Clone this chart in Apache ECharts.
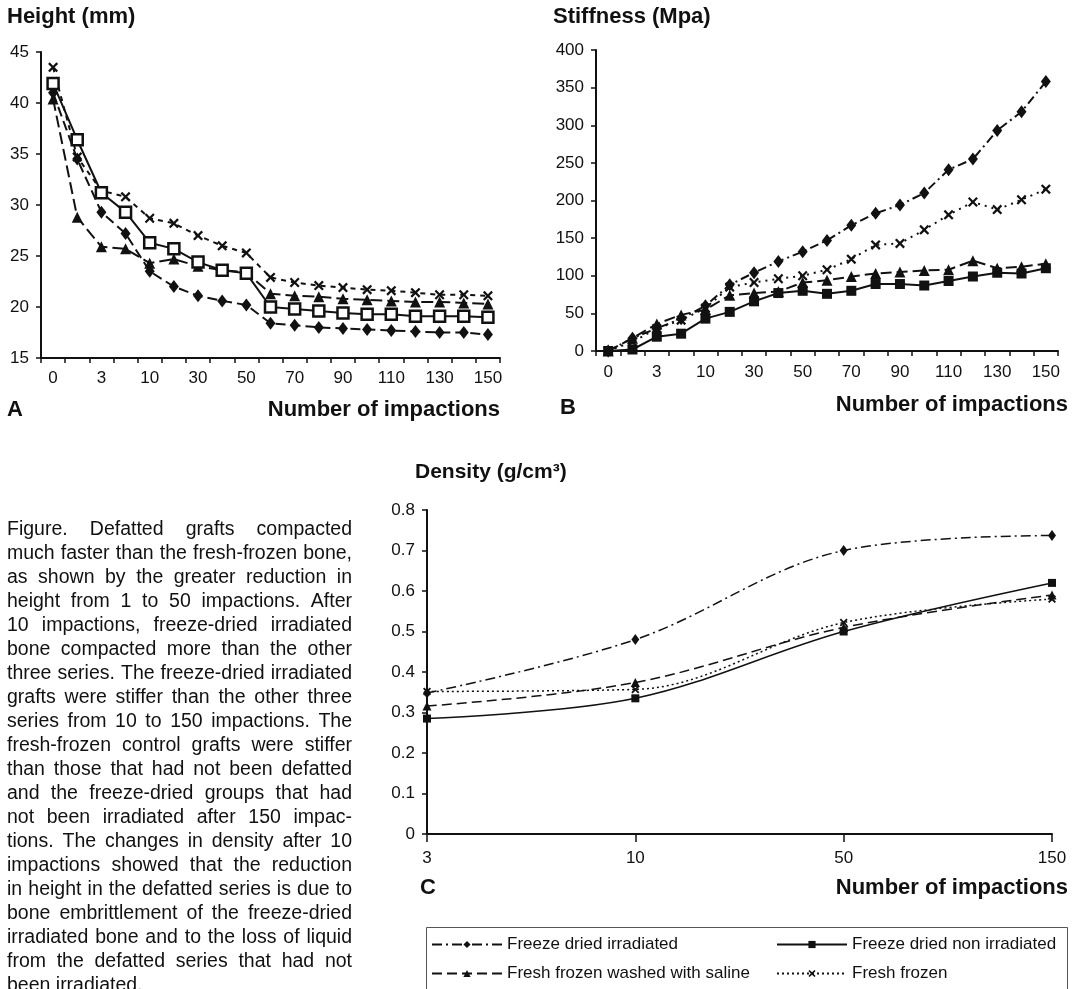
<!DOCTYPE html>
<html>
<head>
<meta charset="utf-8">
<script src="https://cdn.jsdelivr.net/npm/echarts@6/dist/echarts.min.js"></script>
<style>
html,body{margin:0;padding:0;background:#fff;}
#chart{width:1080px;height:989px;}
</style>
</head>
<body>
<div id="chart"></div>
<script>
// ---------- DATA ----------
const impactionCats = ['0','1','3','5','10','20','30','40','50','60','70','80','90','100','110','120','130','140','150'];
const densityCats = ['3','10','50','150'];
const seriesNames = ['Freeze dried irradiated','Freeze dried non irradiated','Fresh frozen washed with saline','Fresh frozen'];

// Panel A: Height (mm)
const heightFDI = [41.0,34.5,29.3,27.2,23.5,22.0,21.1,20.6,20.2,18.4,18.2,18.0,17.9,17.8,17.7,17.6,17.5,17.5,17.3];
const heightFDN = [41.9,36.4,31.2,29.3,26.3,25.7,24.4,23.6,23.3,20.0,19.8,19.6,19.4,19.3,19.3,19.1,19.1,19.1,19.0];
const heightFFS = [40.4,28.8,25.9,25.7,24.3,24.7,24.0,23.6,23.4,21.3,21.1,21.0,20.8,20.7,20.6,20.5,20.5,20.4,20.3];
const heightFF  = [43.5,34.7,31.4,30.8,28.7,28.2,27.0,26.0,25.3,22.9,22.4,22.1,21.9,21.7,21.6,21.4,21.2,21.2,21.1];

// Panel B: Stiffness (Mpa)
const stiffFDI = [0,17,30,43,60,88,104,119,132,147,167,183,194,210,241,255,293,318,358];
const stiffFDN = [0,2,19,23,43,52,66,77,80,76,80,89,89,87,93,99,104,103,110];
const stiffFFS = [0,17,36,48,55,74,77,79,91,94,99,103,105,107,108,120,110,112,116];
const stiffFF  = [0,12,30,41,57,85,91,96,100,108,122,141,143,161,181,198,188,201,215];

// Panel C: Density (g/cm3)
const densFDI = [0.348,0.480,0.700,0.737];
const densFDN = [0.285,0.335,0.500,0.620];
const densFFS = [0.316,0.374,0.510,0.590];
const densFF  = [0.352,0.357,0.522,0.580];

const captionLines = [
 'Figure. Defatted grafts compacted',
 'much faster than the fresh-frozen bone,',
 'as shown by the greater reduction in',
 'height from 1 to 50 impactions. After',
 '10 impactions, freeze-dried irradiated',
 'bone compacted more than the other',
 'three series. The freeze-dried irradiated',
 'grafts were stiffer than the other three',
 'series from 10 to 150 impactions. The',
 'fresh-frozen control grafts were stiffer',
 'than those that had not been defatted',
 'and the freeze-dried groups that had',
 'not been irradiated after 150 impac-',
 'tions. The changes in density after 10',
 'impactions showed that the reduction',
 'in height in the defatted series is due to',
 'bone embrittlement of the freeze-dried',
 'irradiated bone and to the loss of liquid',
 'from the defatted series that had not',
 'been irradiated.'
];

// ---------- STYLE ----------
const FONT = "'Liberation Sans', Arial, Helvetica, sans-serif";
const BLACK = '#111';
const XPATH = 'path://M0,1.6L1.6,0L5,3.4L8.4,0L10,1.6L6.6,5L10,8.4L8.4,10L5,6.6L1.6,10L0,8.4L3.4,5Z';

function mk(name, gi, data, opt) {
  return {
    name: name, type: 'line', xAxisIndex: gi, yAxisIndex: gi, data: data,
    symbol: opt.symbol, symbolSize: opt.size, smooth: opt.smooth || false,
    showSymbol: true,
    lineStyle: { color: BLACK, width: opt.width, type: opt.dash, cap: 'butt' },
    itemStyle: { color: opt.fill || BLACK, borderColor: BLACK, borderWidth: opt.bw || 0, opacity: 1 },
    emphasis: { disabled: true },
    z: opt.z || 2
  };
}

function axisCommon() {
  return {
    axisLine: { show: true, lineStyle: { color: BLACK, width: 2 } },
    axisTick: { show: true, inside: false, length: 5, lineStyle: { color: BLACK, width: 1.5 } },
    splitLine: { show: false },
    axisLabel: { color: BLACK, fontSize: 17, fontFamily: FONT }
  };
}

function catAxis(gi, data, boundary, labelInterval, margin, tickLen) {
  const a = axisCommon();
  return Object.assign(a, {
    type: 'category', gridIndex: gi, data: data, boundaryGap: boundary,
    axisTick: Object.assign(a.axisTick, { interval: 0, length: tickLen }),
    axisLabel: Object.assign(a.axisLabel, { interval: labelInterval, margin: margin })
  });
}
function valAxis(gi, min, max, interval, fmt) {
  const a = axisCommon();
  return Object.assign(a, {
    type: 'value', gridIndex: gi, min: min, max: max, interval: interval,
    axisLabel: Object.assign(a.axisLabel, { margin: 12, formatter: fmt })
  });
}

// caption justified text
function captionElements() {
  const size = 19.5, lh = 24, x0 = 7, width = 345, y0 = 530;
  const font = size + 'px ' + FONT;
  const ctx = document.createElement('canvas').getContext('2d');
  ctx.font = font;
  const els = [];
  captionLines.forEach(function (line, i) {
    const words = line.split(' ');
    const widths = words.map(function (w) { return ctx.measureText(w).width; });
    const sum = widths.reduce(function (s, w) { return s + w; }, 0);
    const last = i === captionLines.length - 1;
    const gap = (last || words.length < 2) ? ctx.measureText(' ').width : (width - sum) / (words.length - 1);
    let x = x0;
    words.forEach(function (w, k) {
      els.push({ type: 'text', x: x, y: y0 + i * lh, silent: true,
        style: { text: w, fontSize: size, fontFamily: FONT, fill: BLACK, verticalAlign: 'middle', textVerticalAlign: 'middle' } });
      x += widths[k] + gap;
    });
  });
  return els;
}

function label(text, x, y, align, size, weight) {
  return { type: 'text', x: x, y: y, silent: true,
    style: { text: text, fontSize: size, fontWeight: weight || 'bold', fontFamily: FONT, fill: BLACK,
      align: align, textAlign: align, verticalAlign: 'middle', textVerticalAlign: 'middle' } };
}

const chart = echarts.init(document.getElementById('chart'), null, { renderer: 'canvas' });

const legendText = { color: BLACK, fontSize: 17, fontFamily: FONT };
function leg(name, left, top) {
  return { data: [name], left: left, top: top, padding: 0, itemWidth: 70, itemHeight: 9,
    selectedMode: false, textStyle: legendText, itemGap: 4 };
}

const option = {
  animation: false,
  backgroundColor: '#fff',
  grid: [
    { left: 41, top: 52, width: 459, height: 306 },
    { left: 596, top: 50, width: 462, height: 301 },
    { left: 427, top: 510, width: 625, height: 324 }
  ],
  xAxis: [
    catAxis(0, impactionCats, true, 1, 12, 5),
    catAxis(1, impactionCats, true, 1, 13, 5),
    catAxis(2, densityCats, false, 0, 16, 8)
  ],
  yAxis: [
    valAxis(0, 15, 45, 5),
    valAxis(1, 0, 400, 50),
    valAxis(2, 0, 0.8, 0.1, function (v) { return v === 0 ? '0' : v.toFixed(1); })
  ],
  legend: [
    leg(seriesNames[0], 431, 936),
    leg(seriesNames[1], 776, 936),
    leg(seriesNames[2], 431, 965),
    leg(seriesNames[3], 776, 965)
  ],
  series: [
    // C (first so the legend uses these styles)
    mk(seriesNames[0], 2, densFDI, { symbol: 'diamond', size: [8, 11], width: 1.5, dash: [10, 4, 2, 4], smooth: 0.35 }),
    mk(seriesNames[1], 2, densFDN, { symbol: 'rect', size: 8, width: 1.5, dash: 'solid', smooth: 0.35 }),
    mk(seriesNames[2], 2, densFFS, { symbol: 'triangle', size: 9, width: 1.5, dash: [10, 5], smooth: 0.35 }),
    mk(seriesNames[3], 2, densFF,  { symbol: XPATH, size: 8, width: 1.5, dash: [2, 3], smooth: 0.35 }),
    // A
    mk(seriesNames[0], 0, heightFDI, { symbol: 'diamond', size: [10, 13], width: 2, dash: [10, 5] }),
    mk(seriesNames[1], 0, heightFDN, { symbol: 'rect', size: 11, width: 2, dash: 'solid', fill: '#fff', bw: 2.5, z: 3 }),
    mk(seriesNames[2], 0, heightFFS, { symbol: 'triangle', size: 11, width: 2, dash: [12, 5] }),
    mk(seriesNames[3], 0, heightFF,  { symbol: XPATH, size: 10, width: 2, dash: [5, 5] }),
    // B
    mk(seriesNames[0], 1, stiffFDI, { symbol: 'diamond', size: [10, 13], width: 2, dash: [9, 4, 2, 4] }),
    mk(seriesNames[1], 1, stiffFDN, { symbol: 'rect', size: 10, width: 2, dash: 'solid' }),
    mk(seriesNames[2], 1, stiffFFS, { symbol: 'triangle', size: 11, width: 2, dash: [11, 5] }),
    mk(seriesNames[3], 1, stiffFF,  { symbol: XPATH, size: 10, width: 2, dash: [2, 5] })
  ],
  graphic: [
    label('Height (mm)', 7, 17, 'left', 22),
    label('Stiffness (Mpa)', 553, 17, 'left', 22),
    label('A', 7, 410, 'left', 22),
    label('Number of impactions', 500, 410, 'right', 22),
    label('B', 560, 408, 'left', 22),
    label('Number of impactions', 1068, 405, 'right', 22),
    label('Density (g/cm\u00b3)', 415, 472, 'left', 21),
    label('C', 420, 888, 'left', 22),
    label('Number of impactions', 1068, 888, 'right', 22),
    { type: 'rect', silent: true, shape: { x: 426.5, y: 927.5, width: 641, height: 80 },
      style: { fill: 'none', stroke: '#555', lineWidth: 1 } }
  ].concat(captionElements())
};

chart.setOption(option);
</script>
</body>
</html>
